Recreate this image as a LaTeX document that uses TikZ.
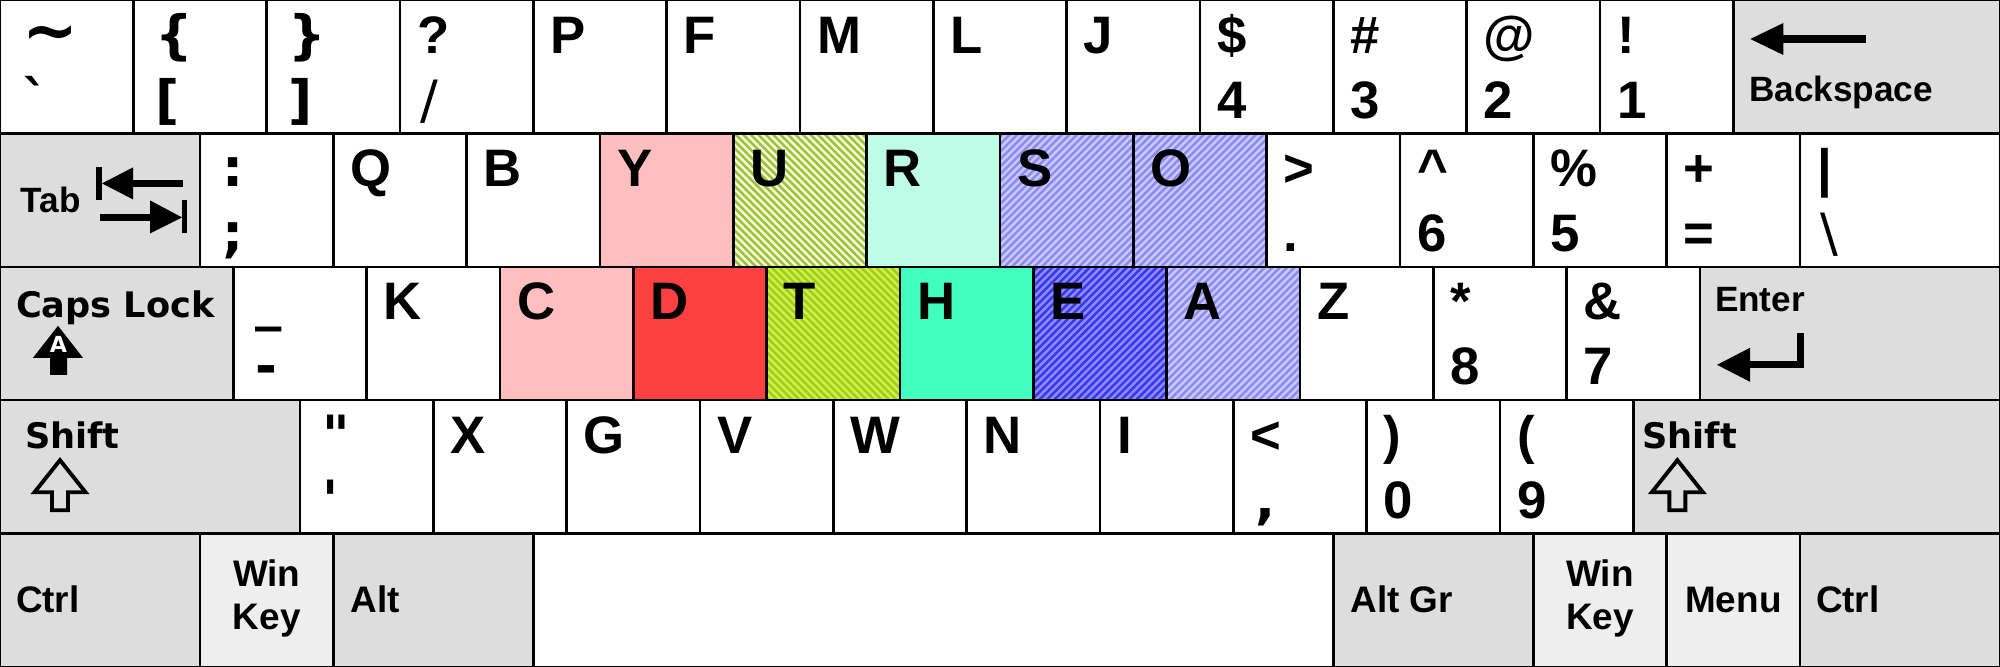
\documentclass[tikz,border=0pt]{standalone}
\usepackage{fontspec}
\setmainfont{Liberation Sans}
\newfontfamily\dv{DejaVu Sans}
\usetikzlibrary{patterns.meta}
\definecolor{kgray}{HTML}{DDDDDD}
\definecolor{klgray}{HTML}{EEEEEE}
\definecolor{ltred}{HTML}{FFBFBF}
\definecolor{dred}{HTML}{FF4040}
\definecolor{mint}{HTML}{40FFBF}
\definecolor{ltmint}{HTML}{BDFCE6}
\definecolor{Ubg}{HTML}{F2FAD6}
\definecolor{Uln}{HTML}{9CC038}
\definecolor{Tbg}{HTML}{CCF53A}
\definecolor{Tln}{HTML}{A2C82A}
\definecolor{Bbg}{HTML}{C8C8FF}
\definecolor{Bln}{HTML}{8A8AF0}
\definecolor{Ebg}{HTML}{3838EC}
\definecolor{Eln}{HTML}{8C8CFF}
\newcommand\K[5]{\node[keybox,minimum width=#4*1.333333cm,#5] (#1) at ({#2*133.3333},{#3*133.4}) {};}
\newcommand\Kt[4]{\node[#4,anchor=base west,xshift=0.17cm,yshift=-0.53cm] (#2) at (#1.north west) {#3};}
\newcommand\Kb[4]{\node[#4,anchor=base west,xshift=0.17cm,yshift=-1.18cm] (#2) at (#1.north west) {#3};}
\begin{document}
\begin{tikzpicture}[x=0.01cm,y=-0.01cm,
  keybox/.style={draw=black,line width=0.7pt,rectangle,inner sep=0pt,outer sep=0pt,anchor=north west,minimum height=1.334cm},
  gkey/.style={fill=kgray}, lgkey/.style={fill=klgray}, wkey/.style={fill=white},
  fkey/.style={fill=#1},
  hU/.style={preaction={fill=Ubg},pattern={Lines[angle=-45,distance=1.5pt,line width=0.7pt]},pattern color=Uln},
  hT/.style={preaction={fill=Tbg},pattern={Lines[angle=-45,distance=1.5pt,line width=0.7pt]},pattern color=Tln},
  hB/.style={preaction={fill=Bbg},pattern={Lines[angle=45,distance=1.5pt,line width=0.7pt]},pattern color=Bln},
  hE/.style={preaction={fill=Ebg},pattern={Lines[angle=45,distance=1.5pt,line width=0.7pt]},pattern color=Eln},
  lbl/.style={inner sep=0pt,outer sep=0pt,font=\fontsize{15}{18}\selectfont\bfseries},
  dlbl/.style={inner sep=0pt,outer sep=0pt,xshift=0.05cm,font=\dv\fontsize{15}{18}\selectfont\bfseries},
  slbl/.style={inner sep=0pt,outer sep=0pt,xshift=0.03cm,font=\dv\fontsize{15}{18}\selectfont},
  mlbl/.style={inner sep=0pt,outer sep=0pt,anchor=base west,font=\fontsize{10}{12}\selectfont\bfseries},
  dmlbl/.style={inner sep=0pt,outer sep=0pt,anchor=base west,font=\dv\fontsize{10}{12}\selectfont\bfseries},
  blbl/.style={inner sep=0pt,outer sep=0pt,font=\fontsize{10.5}{12}\selectfont\bfseries},
  icon/.style={fill=black},
  ]
\useasboundingbox (0,0) rectangle (2000,667);
% ---------- row 0
\K{kTilde}{0}{0}{1}{wkey}\Kt{kTilde}{tTildeA}{\fontsize{19}{20}\selectfont\textasciitilde}{dlbl}\Kb{kTilde}{tTildeB}{\symbol{"60}}{dlbl}
\K{kLBr}{1}{0}{1}{wkey}\Kt{kLBr}{tLBrA}{\{}{dlbl}\Kb{kLBr}{tLBrB}{[}{dlbl}
\K{kRBr}{2}{0}{1}{wkey}\Kt{kRBr}{tRBrA}{\}}{dlbl}\Kb{kRBr}{tRBrB}{]}{dlbl}
\K{kQu}{3}{0}{1}{wkey}\Kt{kQu}{tQuA}{?}{lbl}\Kb{kQu}{tQuB}{/}{slbl}
\K{kP}{4}{0}{1}{wkey}\Kt{kP}{tP}{P}{lbl}
\K{kF}{5}{0}{1}{wkey}\Kt{kF}{tF}{F}{lbl}
\K{kM}{6}{0}{1}{wkey}\Kt{kM}{tM}{M}{lbl}
\K{kL}{7}{0}{1}{wkey}\Kt{kL}{tL}{L}{lbl}
\K{kJ}{8}{0}{1}{wkey}\Kt{kJ}{tJ}{J}{lbl}
\K{kFour}{9}{0}{1}{wkey}\Kt{kFour}{tFourA}{\$}{lbl}\Kb{kFour}{tFourB}{4}{lbl}
\K{kThree}{10}{0}{1}{wkey}\Kt{kThree}{tThreeA}{\#}{lbl}\Kb{kThree}{tThreeB}{3}{lbl}
\K{kTwo}{11}{0}{1}{wkey}\Kt{kTwo}{tTwoA}{@}{lbl}\Kb{kTwo}{tTwoB}{2}{lbl}
\K{kOne}{12}{0}{1}{wkey}\Kt{kOne}{tOneA}{!}{lbl}\Kb{kOne}{tOneB}{1}{lbl}
\K{kBksp}{13}{0}{2}{gkey}
\begin{scope}[shift={(kBksp.north west)}]
  \node[mlbl] (tBksp) at (16,102) {Backspace};
  \fill[icon] (17,39) -- (50,23) -- (50,55) -- cycle;
  \fill[icon] (48,35) rectangle (133,43);
\end{scope}
% ---------- row 1
\K{kTab}{0}{1}{1.5}{gkey}
\begin{scope}[shift={(kTab.north west)}]
  \node[mlbl] (tTab) at (21,79) {Tab};
  \fill[icon] (96,34) rectangle (101.5,67);
  \fill[icon] (102,50) -- (133,34) -- (133,66) -- cycle;
  \fill[icon] (130,46.5) rectangle (183,53.5);
  \fill[icon] (100,80.5) rectangle (152,87.5);
  \fill[icon] (182,84) -- (150,67) -- (150,100) -- cycle;
  \fill[icon] (181.5,67) rectangle (187,100);
\end{scope}
\K{kColon}{1.5}{1}{1}{wkey}\Kt{kColon}{tColonA}{:}{dlbl}\Kb{kColon}{tColonB}{;}{dlbl}
\K{kQ}{2.5}{1}{1}{wkey}\Kt{kQ}{tQ}{Q}{lbl}
\K{kB}{3.5}{1}{1}{wkey}\Kt{kB}{tB}{B}{lbl}
\K{kY}{4.5}{1}{1}{fkey=ltred}\Kt{kY}{tY}{Y}{lbl}
\K{kU}{5.5}{1}{1}{hU}\Kt{kU}{tU}{U}{lbl}
\K{kR}{6.5}{1}{1}{fkey=ltmint}\Kt{kR}{tR}{R}{lbl}
\K{kS}{7.5}{1}{1}{hB}\Kt{kS}{tS}{S}{lbl}
\K{kO}{8.5}{1}{1}{hB}\Kt{kO}{tO}{O}{lbl}
\K{kDot}{9.5}{1}{1}{wkey}\Kt{kDot}{tDotA}{>}{lbl}\Kb{kDot}{tDotB}{.}{lbl}
\K{kSix}{10.5}{1}{1}{wkey}\Kt{kSix}{tSixA}{\textasciicircum}{lbl}\Kb{kSix}{tSixB}{6}{lbl}
\K{kFive}{11.5}{1}{1}{wkey}\Kt{kFive}{tFiveA}{\%}{lbl}\Kb{kFive}{tFiveB}{5}{lbl}
\K{kPlus}{12.5}{1}{1}{wkey}\Kt{kPlus}{tPlusA}{+}{lbl}\Kb{kPlus}{tPlusB}{=}{lbl}
\K{kPipe}{13.5}{1}{1.5}{wkey}\Kt{kPipe}{tPipeA}{|}{lbl}\Kb{kPipe}{tPipeB}{\textbackslash}{slbl}
% ---------- row 2
\K{kCaps}{0}{2}{1.75}{gkey}
\begin{scope}[shift={(kCaps.north west)}]
  \node[dmlbl] (tCaps) at (16,51) {Caps Lock};
  \fill[icon] (58,59) -- (83,91) -- (67,91) -- (67,108) -- (50,108) -- (50,91) -- (33,91) -- cycle;
  \node[inner sep=0pt,anchor=base,text=white,font=\dv\fontsize{6.3}{7}\selectfont\bfseries] (tCapsA) at (58.5,86) {A};
\end{scope}
\K{kUnd}{1.75}{2}{1}{wkey}\Kt{kUnd}{tUndA}{\_}{dlbl}\Kb{kUnd}{tUndB}{-}{dlbl}
\K{kK}{2.75}{2}{1}{wkey}\Kt{kK}{tK}{K}{lbl}
\K{kC}{3.75}{2}{1}{fkey=ltred}\Kt{kC}{tC}{C}{lbl}
\K{kD}{4.75}{2}{1}{fkey=dred}\Kt{kD}{tD}{D}{lbl}
\K{kT}{5.75}{2}{1}{hT}\Kt{kT}{tT}{T}{lbl}
\K{kH}{6.75}{2}{1}{fkey=mint}\Kt{kH}{tH}{H}{lbl}
\K{kE}{7.75}{2}{1}{hE}\Kt{kE}{tE}{E}{lbl}
\K{kA}{8.75}{2}{1}{hB}\Kt{kA}{tA}{A}{lbl}
\K{kZ}{9.75}{2}{1}{wkey}\Kt{kZ}{tZ}{Z}{lbl}
\K{kStar}{10.75}{2}{1}{wkey}\Kt{kStar}{tStarA}{*}{lbl}\Kb{kStar}{tStarB}{8}{lbl}
\K{kAmp}{11.75}{2}{1}{wkey}\Kt{kAmp}{tAmpA}{\&}{lbl}\Kb{kAmp}{tAmpB}{7}{lbl}
\K{kEnter}{12.75}{2}{2.25}{gkey}
\begin{scope}[shift={(kEnter.north west)}]
  \node[mlbl] (tEnter) at (15,45) {Enter};
  \draw[line width=0.07cm,line join=miter] (100.5,66) -- (100.5,98) -- (48,98);
  \fill[icon] (17,98) -- (50,81) -- (50,115) -- cycle;
\end{scope}
% ---------- row 3
\K{kLShift}{0}{3}{2.25}{gkey}
\begin{scope}[shift={(kLShift.north west)}]
  \node[dmlbl] (tLShift) at (25,48) {Shift};
  \draw[line width=1.1pt,line join=miter] (60,60) -- (85.5,92) -- (68,92) -- (68,110) -- (52,110) -- (52,92) -- (34.5,92) -- cycle;
\end{scope}
\K{kQuote}{2.25}{3}{1}{wkey}\Kt{kQuote}{tQuoteA}{\symbol{"22}}{dlbl}\Kb{kQuote}{tQuoteB}{\symbol{"27}}{dlbl}
\K{kX}{3.25}{3}{1}{wkey}\Kt{kX}{tX}{X}{lbl}
\K{kG}{4.25}{3}{1}{wkey}\Kt{kG}{tG}{G}{lbl}
\K{kV}{5.25}{3}{1}{wkey}\Kt{kV}{tV}{V}{lbl}
\K{kW}{6.25}{3}{1}{wkey}\Kt{kW}{tW}{W}{lbl}
\K{kN}{7.25}{3}{1}{wkey}\Kt{kN}{tN}{N}{lbl}
\K{kI}{8.25}{3}{1}{wkey}\Kt{kI}{tI}{I}{lbl}
\K{kLess}{9.25}{3}{1}{wkey}\Kt{kLess}{tLessA}{<}{lbl}\Kb{kLess}{tLessB}{,}{dlbl}
\K{kZero}{10.25}{3}{1}{wkey}\Kt{kZero}{tZeroA}{)}{lbl}\Kb{kZero}{tZeroB}{0}{lbl}
\K{kNine}{11.25}{3}{1}{wkey}\Kt{kNine}{tNineA}{(}{lbl}\Kb{kNine}{tNineB}{9}{lbl}
\K{kRShift}{12.25}{3}{2.75}{gkey}
\begin{scope}[shift={(kRShift.north west)}]
  \node[dmlbl] (tRShift) at (9,48) {Shift};
  \draw[line width=1.1pt,line join=miter] (44,60) -- (69.5,92) -- (52,92) -- (52,110) -- (36,110) -- (36,92) -- (18.5,92) -- cycle;
\end{scope}
% ---------- row 4
\K{kLCtrl}{0}{4}{1.5}{gkey}
\K{kLWin}{1.5}{4}{1}{lgkey}
\K{kAlt}{2.5}{4}{1.5}{gkey}
\K{kSpace}{4}{4}{6}{wkey}
\K{kAltGr}{10}{4}{1.5}{gkey}
\K{kRWin}{11.5}{4}{1}{lgkey}
\K{kMenu}{12.5}{4}{1}{lgkey}
\K{kRCtrl}{13.5}{4}{1.5}{gkey}
\node[blbl,anchor=base west,xshift=0.16cm,yshift=-0.79cm] (tLCtrl) at (kLCtrl.north west) {Ctrl};
\node[blbl,anchor=base,yshift=-0.53cm] (tLWinA) at (kLWin.north) {Win};
\node[blbl,anchor=base,yshift=-0.96cm] (tLWinB) at (kLWin.north) {Key};
\node[blbl,anchor=base west,xshift=0.17cm,yshift=-0.79cm] (tAlt) at (kAlt.north west) {Alt};
\node[blbl,anchor=base west,xshift=0.17cm,yshift=-0.79cm] (tAltGr) at (kAltGr.north west) {Alt Gr};
\node[blbl,anchor=base,yshift=-0.53cm] (tRWinA) at (kRWin.north) {Win};
\node[blbl,anchor=base,yshift=-0.96cm] (tRWinB) at (kRWin.north) {Key};
\node[blbl,anchor=base,yshift=-0.79cm] (tMenu) at (kMenu.north) {Menu};
\node[blbl,anchor=base west,xshift=0.16cm,yshift=-0.79cm] (tRCtrl) at (kRCtrl.north west) {Ctrl};
\end{tikzpicture}
\end{document}
